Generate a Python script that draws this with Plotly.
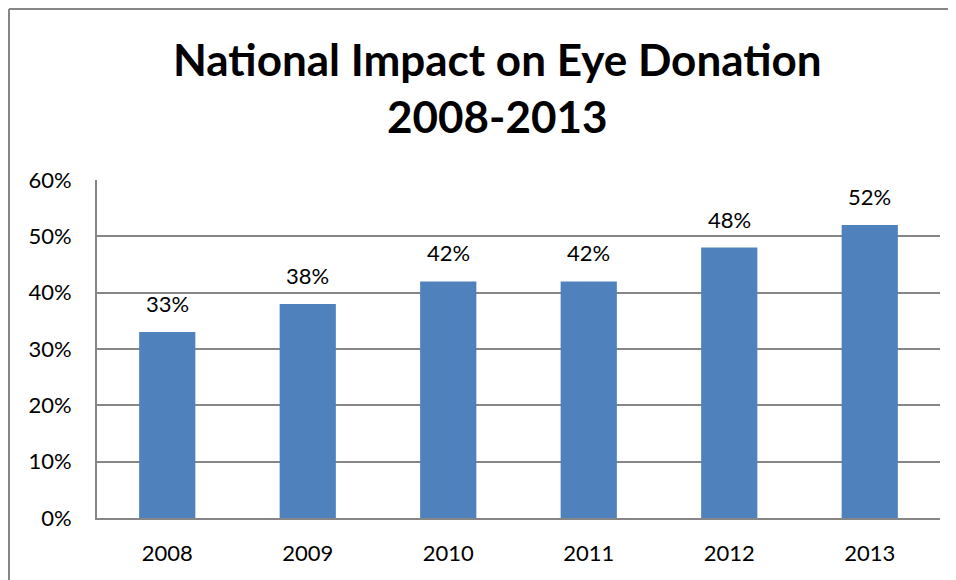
import plotly.graph_objects as go

years = ["2008", "2009", "2010", "2011", "2012", "2013"]
values = [33, 38, 42, 42, 48, 52]
labels = ["33%", "38%", "42%", "42%", "48%", "52%"]
y_ticks = [0, 10, 20, 30, 40, 50, 60]
y_tick_text = ["0%", "10%", "20%", "30%", "40%", "50%", "60%"]
title_lines = ["National Impact on Eye Donation", "2008-2013"]

FONT = "Lato, 'Open Sans', sans-serif"

fig = go.Figure()
fig.add_trace(go.Bar(
    x=years, y=values,
    marker=dict(color="#4F81BD", line=dict(width=0)),
    width=0.4,
    hoverinfo="x+y",
))

annotations = []
for i, (v, t) in enumerate(zip(values, labels)):
    annotations.append(dict(
        x=i, y=v, xref="x", yref="y", text=t, showarrow=False,
        yanchor="bottom", yshift=13,
        font=dict(family=FONT, size=22, color="#000000"),
    ))
annotations.append(dict(
    x=0.4745, y=1, xref="paper", yref="paper", yanchor="bottom", yshift=36,
    text="<br>".join("<b>%s</b>" % s for s in title_lines),
    showarrow=False, align="center",
    font=dict(family=FONT, size=44, color="#000000"),
))

fig.update_layout(
    width=948, height=572,
    margin=dict(l=89, r=16, t=172, b=62),
    paper_bgcolor="white", plot_bgcolor="white",
    showlegend=False,
    annotations=annotations,
    font=dict(family=FONT, size=22, color="#000000"),
    xaxis=dict(
        type="category", showgrid=False, zeroline=False,
        showline=True, linecolor="#868686", linewidth=2,
        ticks="", ticklabelstandoff=15,
        tickfont=dict(family=FONT, size=22, color="#000000"),
    ),
    yaxis=dict(
        range=[0, 60], tickvals=y_ticks, ticktext=y_tick_text,
        showgrid=True, gridcolor="#868686", gridwidth=2,
        zeroline=False, showline=True, linecolor="#868686", linewidth=2,
        ticks="", ticklabelstandoff=19,
        tickfont=dict(family=FONT, size=22, color="#000000"),
    ),
    shapes=[
        dict(type="line", xref="paper", yref="paper",
             x0=-0.1044, x1=-0.1044, y0=1.506, y1=-0.3,
             line=dict(color="#868686", width=2)),
        dict(type="line", xref="paper", yref="paper",
             x0=-0.1044, x1=1.2, y0=1.506, y1=1.506,
             line=dict(color="#868686", width=2)),
    ],
)

fig.write_html("out.html")
